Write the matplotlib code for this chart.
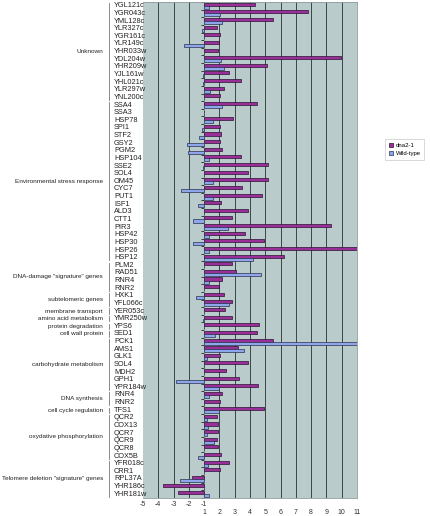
import numpy as np
import matplotlib
matplotlib.use("Agg")
import matplotlib.pyplot as plt
from matplotlib.transforms import blended_transform_factory
from matplotlib.patches import Patch

plt.rcParams['font.family'] = ['Liberation Sans', 'DejaVu Sans']

groups = ["Unknown", "Environmental stress response", 'DNA-damage "signature" genes',
          "subtelomeric genes", "membrane transport", "amino acid metabolism",
          "protein degradation", "cell wall protein", "carbohydrate metabolism",
          "DNA synthesis", "cell cycle regulation", "oxydative phosphorylation",
          'Telomere deletion "signature" genes']
group_sizes = [13, 21, 4, 2, 1, 1, 1, 1, 7, 2, 1, 6, 5]

genes = ["YGL121c", "YGR043c", "YML128c", "YLR327c", "YGR161c", "YLR149c", "YHR033w",
         "YDL204w", "YHR209w", "YJL161w", "YHL021c", "YLR297w", "YNL200c",
         "SSA4", "SSA3", "HSP78", "SPI1", "STF2", "GSY2", "PGM2", "HSP104", "SSE2", "SOL4",
         "OM45", "CYC7", "PUT1", "ISF1", "ALD3", "CTT1", "PIR3", "HSP42", "HSP30", "HSP26", "HSP12",
         "PLM2", "RAD51", "RNR4", "RNR2",
         "HXK1", "YFL066c",
         "YER053c", "YMR250w", "YPS6", "SED1",
         "PCK1", "AMS1", "GLK1", "SOL4", "MDH2", "GPH1", "YPR184w",
         "RNR4", "RNR2",
         "TFS1",
         "QCR2", "COX13", "QCR7", "QCR9", "QCR8", "COX5B",
         "YFR018c", "CRR1", "RPL37A", "YHR186c", "YHR181w"]

# fold change values (no change = 1)
dna2 = [4.3, 7.8, 5.5, 1.85, 2.07, 2.0, 1.9, 9.95, 5.1, 2.6, 3.4, 2.33, 2.05,
        4.45, 1.0, 2.86, 2.03, 2.1, 2.05, 2.18, 3.4, 5.2, 3.86, 5.15, 3.5, 4.76, 2.1, 3.9,
        2.8, 9.3, 3.7, 4.9, 11.5, 6.2,
        2.8, 3.1, 2.2, 2.0,
        2.3, 2.8,
        2.35, 2.8, 4.6, 4.45,
        5.5, 3.2, 2.07, 3.86, 2.45, 3.3, 4.5,
        2.2, 2.05,
        4.9,
        1.87, 1.9, 1.9, 1.83, 1.9, 2.1,
        2.65, 2.07, -1.8, -3.66, -2.7]
wild = [1.3, 2.05, 2.2, -1.13, 1.0, -2.35, 1.0, 2.1, 2.3, -1.1, -1.07, 1.4, 1.0,
        2.2, 1.0, 1.6, -1.13, -1.35, -2.1, -2.05, 1.3, -1.05, 1.0, 1.55, -2.53, 1.6, -1.4, 1.0,
        -1.76, 2.53, 1.35, -1.72, 1.35, 4.17,
        1.0, 4.7, 1.3, 1.0,
        -1.55, 2.6,
        1.0, -1.07, 1.0, 1.7,
        11.5, 3.6, 1.2, 1.0, 1.0, -2.85, 1.96,
        1.3, 1.0,
        1.95,
        1.2, 1.26, 1.2, 1.65, 1.0, -1.4,
        1.26, 1.0, -2.57, 1.0, 1.35]


def to_axis(v):
    v = np.asarray(v, dtype=float)
    return np.where(v >= 1, v - 1, v + 1)


n = len(genes)
y = np.arange(n)

fig = plt.figure(figsize=(4.3, 5.16), dpi=100)
ax = fig.add_axes([143 / 430, 1 - 498 / 516, 214 / 430, 496 / 516])
ax.set_facecolor('#b9cccb')

ax.barh(y - 0.2, to_axis(dna2), height=0.4, color='#9a2f9a', edgecolor='#2a1030',
        linewidth=0.5, label='dna2-1', zorder=3)
ax.barh(y + 0.2, to_axis(wild), height=0.4, color='#8ea6ea', edgecolor='#2a3050',
        linewidth=0.5, label='Wild-type', zorder=3)

ax.set_xlim(-4, 10)
ax.set_ylim(n - 0.5, -0.5)

for k in range(-3, 10):
    if k != 0:
        ax.axvline(k, color='#3a4646', lw=0.7, zorder=1)

for s in ['top', 'right', 'bottom']:
    ax.spines[s].set_color('#8c9c9c')
    ax.spines[s].set_linewidth(0.6)
ax.spines['left'].set_position(('data', 0))
ax.spines['left'].set_color('#8c9c9c')
ax.spines['left'].set_linewidth(0.5)
ax.set_yticks(np.arange(n + 1) - 0.5)
ax.set_yticklabels([])
ax.tick_params(axis='y', length=2, width=0.6, color='#222222', direction='out')
ax.set_xticks([])

# x tick labels: -5..-1 on first row, 1..11 below
tb = blended_transform_factory(ax.transData, fig.transFigure)
for k in range(-4, 11):
    if k <= 0:
        ax.text(k, 1 - 505 / 516, str(k - 1), transform=tb, ha='center', va='center',
                fontsize=5, color='#333333')
    if k >= 0:
        ax.text(k, 1 - 512 / 516, str(k + 1), transform=tb, ha='center', va='center',
                fontsize=5, color='#333333')

# gene labels and group labels
ta = blended_transform_factory(fig.transFigure, ax.transData)
for i, g in enumerate(genes):
    ax.text(114 / 430, i, g, transform=ta, ha='left', va='center', fontsize=5.3,
            color='#222222', clip_on=False)

start = 0
for name, size in zip(groups, group_sizes):
    end = start + size - 1
    ax.text(103 / 430, (start + end) / 2, name, transform=ta, ha='right', va='center',
            fontsize=4.6, color='#222222', clip_on=False)
    ax.plot([108.5 / 430, 108.5 / 430], [start - 0.35, end + 0.35], transform=ta,
            color='#777777', lw=0.6, clip_on=False)
    start += size

handles = [Patch(facecolor='#9a2f9a', edgecolor='#2a1030', linewidth=0.5, label='dna2-1'),
           Patch(facecolor='#8ea6ea', edgecolor='#2a3050', linewidth=0.5, label='Wild-type')]
leg = fig.legend(handles=handles, loc='center left', bbox_to_anchor=(385 / 430, 1 - 149.5 / 516),
                 fontsize=4.3, frameon=True, handlelength=0.7, handleheight=0.7,
                 handletextpad=0.5, borderpad=0.6, labelspacing=0.5, fancybox=False,
                 borderaxespad=0)
leg.get_frame().set_edgecolor('#bbbbbb')
leg.get_frame().set_linewidth(0.5)

fig.savefig('out.png', dpi=100)
